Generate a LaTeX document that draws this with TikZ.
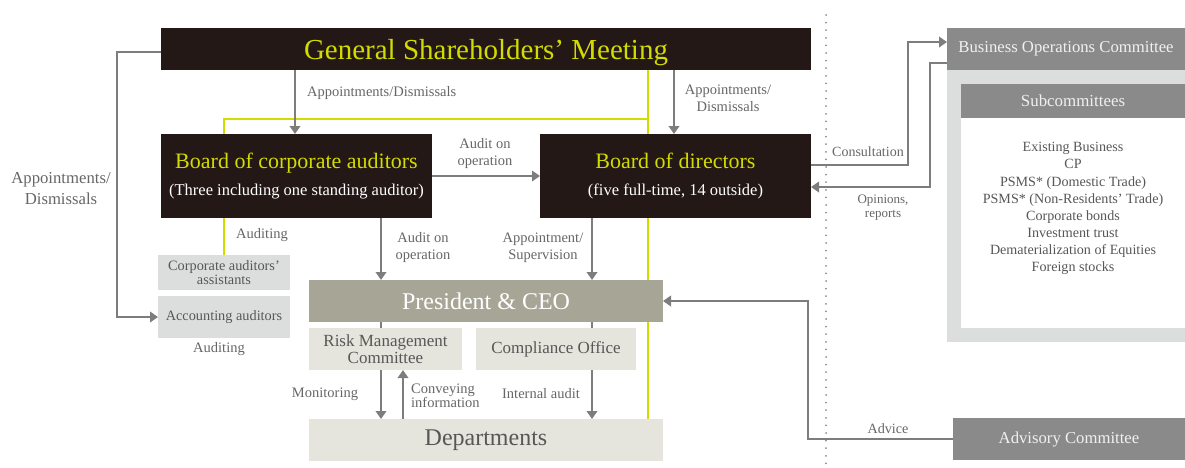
\documentclass[tikz,border=0pt]{standalone}
\usepackage{fontspec}
\setmainfont{Liberation Serif}
\usetikzlibrary{arrows.meta}
\definecolor{darkfill}{HTML}{231815}
\definecolor{limeyel}{HTML}{D2DC00}
\definecolor{arrowgray}{HTML}{7D7D7D}
\definecolor{labelgray}{HTML}{666666}
\definecolor{presfill}{HTML}{A7A596}
\definecolor{lightfill}{HTML}{E5E4DD}
\definecolor{audfill}{HTML}{DCDDDD}
\definecolor{comfill}{HTML}{8A8A8A}
\definecolor{boxtext}{HTML}{575757}
\definecolor{dotgray}{HTML}{8C8C8C}
\begin{document}
\begin{tikzpicture}[x=1pt,y=-1pt,
  basebox/.style={inner sep=0pt, outer sep=0pt, align=center},
  darkbox/.style={basebox, fill=darkfill},
  boardbox/.style={darkbox, minimum width=271pt, minimum height=84pt, text=white, font=\fontsize{16.5}{27}\selectfont},
  lightbox/.style={basebox, fill=lightfill, text=boxtext},
  audbox/.style={basebox, fill=audfill, text=boxtext, font=\fontsize{14.3}{14.3}\selectfont},
  combox/.style={basebox, fill=comfill, text=white!94!black, font=\fontsize{16.7}{20}\selectfont},
  conn/.style={draw=arrowgray, line width=2.7pt},
  arr/.style={conn, -{Triangle[length=8pt,width=10.5pt]}},
  lbl/.style={text=labelgray, font=\fontsize{14.5}{17}\selectfont, align=center, inner sep=0pt},
  ylw/.style={draw=limeyel, line width=2.7pt},
  dotline/.style={draw=dotgray, line width=2pt, line cap=round, dash pattern=on 0pt off 7.6pt}
]
\useasboundingbox (0,0) rectangle (1185,467);

% helper coordinates
\coordinate (ytop) at (648,119);
\coordinate (xa) at (295,0);
\coordinate (xb) at (674,0);
\coordinate (xc) at (381,0);
\coordinate (xd) at (592,0);
\coordinate (xe) at (403,0);
\coordinate (ya) at (0,176);
\coordinate (c1) at (908,165);
\coordinate (c2) at (908,42);
\coordinate (o1) at (930,63);
\coordinate (o2) at (930,187);
\coordinate (l1) at (117,52);
\coordinate (a1) at (808,370);
\coordinate (dtop) at (826,15);
\coordinate (dbot) at (826,467);

% dotted separator
\draw[dotline] (dtop) -- (dbot);

% nodes (yellow frame drawn behind the boards)
\node[darkbox, minimum width=650pt, minimum height=42pt, text depth=0pt, text=limeyel, font=\fontsize{29}{29}\selectfont] (gsm) at (486,49) {General Shareholders’ Meeting};
\node[audbox, minimum width=132pt, minimum height=35pt] (asst) at (224,272.5) {Corporate auditors’\\assistants};
\node[audbox, minimum width=132pt, minimum height=42pt] (acct) at (224,317) {Accounting auditors};
\node[lightbox, minimum width=354pt, minimum height=42pt, font=\fontsize{24}{24}\selectfont] (dept) at (486,440) {Departments};

% yellow frame
\draw[ylw] (asst.north) |- (ytop);
\draw[ylw] (gsm.south -| ytop) -- (dept.north -| ytop);

\node[boardbox] (bca) at (296.5,176)
  {{\color{limeyel}\fontsize{22}{22}\selectfont Board of corporate auditors}\\
   (Three including one standing auditor)};
\node[boardbox] (bod) at (675.5,176)
  {{\color{limeyel}\fontsize{22}{22}\selectfont Board of directors}\\
   (five full-time, 14 outside)};
\node[basebox, fill=presfill, text=white, minimum width=354pt, minimum height=42pt, font=\fontsize{24}{24}\selectfont] (pres) at (486,301) {President \& CEO};
\node[lightbox, minimum width=153pt, minimum height=42pt, font=\fontsize{17}{17.3}\selectfont] (risk) at (385.5,349) {Risk Management\\Committee};
\node[lightbox, minimum width=160pt, minimum height=42pt, font=\fontsize{17}{17}\selectfont] (comp) at (556,349) {Compliance Office};

% right panel
\node[basebox, fill=audfill, minimum width=238pt, minimum height=272pt] (panel) at (1066,206) {};
\node[basebox, fill=white, minimum width=224pt, minimum height=210pt] (sublist) at (1073,223) {};
\node[combox, minimum width=238pt, minimum height=42pt] (boc) at (1066,49) {Business Operations Committee};
\node[combox, minimum width=224pt, minimum height=34pt, font=\fontsize{16.9}{20}\selectfont] (subc) at (1073,101) {Subcommittees};
\node[basebox, text=boxtext, font=\fontsize{14.1}{17.1}\selectfont] (items) at (1073,208.5)
  {Existing Business\\CP\\PSMS* (Domestic Trade)\\PSMS* (Non-Residents’ Trade)\\Corporate bonds\\Investment trust\\Dematerialization of Equities\\Foreign stocks};
\node[combox, minimum width=232pt, minimum height=42pt] (adv) at (1069,439) {Advisory Committee};

% connectors
\draw[arr] (gsm.south -| xa) -- (bca.north -| xa);
\draw[arr] (gsm.south -| xb) -- (bod.north -| xb);
\draw[arr] (bca.east |- ya) -- (bod.west |- ya);
\draw[arr] (bca.south -| xc) -- (pres.north -| xc);
\draw[arr] (bod.south -| xd) -- (pres.north -| xd);
\draw[conn] (pres.south -| xc) -- (risk.north -| xc);
\draw[conn] (pres.south -| xd) -- (comp.north -| xd);
\draw[arr] (risk.south -| xc) -- (dept.north -| xc);
\draw[arr] (dept.north -| xe) -- (risk.south -| xe);
\draw[arr] (comp.south -| xd) -- (dept.north -| xd);
\draw[arr] (gsm.west |- l1) -- (l1) |- (acct.west);
\draw[arr] (bod.east |- c1) -- (c1) -- (c2) -- (boc.west |- c2);
\draw[arr] (boc.west |- o1) -- (o1) -- (o2) -- (bod.east |- o2);
\draw[arr] (adv.west) -| (a1) |- (pres.east);

% labels
\node[lbl, anchor=west] (l-ad1) at (307,93) {Appointments/Dismissals};
\node[lbl] (l-ad2) at (728,98.5) {Appointments/\\Dismissals};
\node[lbl, font=\fontsize{16.7}{21}\selectfont] (l-ad3) at (61,189) {Appointments/\\Dismissals};
\node[lbl] (l-aoo1) at (485,154) {Audit on\\operation};
\node[lbl] (l-aoo2) at (423,247.5) {Audit on\\operation};
\node[lbl] (l-as) at (543,247.5) {Appointment/\\Supervision};
\node[lbl] (l-aud1) at (262,235) {Auditing};
\node[lbl] (l-aud2) at (219,349) {Auditing};
\node[lbl] (l-mon) at (325,394) {Monitoring};
\node[lbl, align=left, anchor=west, font=\fontsize{14.5}{12.4}\selectfont] (l-conv) at (411,396) {Conveying\\information};
\node[lbl] (l-ia) at (541,394) {Internal audit};
\node[lbl, anchor=west, font=\fontsize{14}{17}\selectfont] (l-cons) at (832,152) {Consultation};
\node[lbl, font=\fontsize{13}{13.3}\selectfont] (l-op) at (883,207.5) {Opinions,\\reports};
\node[lbl, font=\fontsize{14.2}{17}\selectfont] (l-adv) at (888,429) {Advice};
\end{tikzpicture}
\end{document}
